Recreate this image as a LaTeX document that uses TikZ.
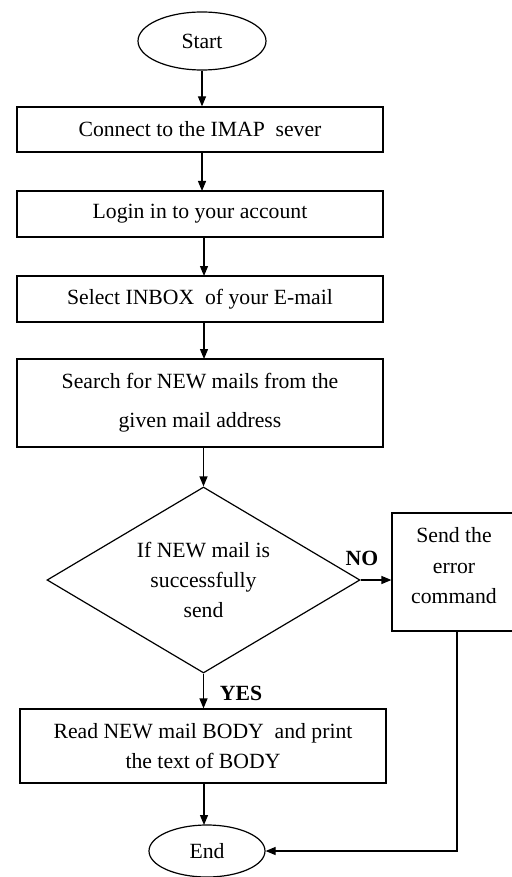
\documentclass[tikz,border=0pt]{standalone}
\usepackage{fontspec}
\setmainfont{Liberation Serif}
\usetikzlibrary{shapes.geometric,arrows.meta}
\begin{document}
\begin{tikzpicture}[x=1pt,y=-1pt,
  every node/.style={font=\fontsize{21.7}{30}\selectfont, inner sep=0pt},
  stepbox/.style={draw, line width=1.2pt, rectangle, align=center},
  term/.style={draw, line width=1.2pt, ellipse},
  decision/.style={draw, line width=1.2pt, diamond, align=center, aspect=1.68},
  arr/.style={line width=1.2pt, -{Triangle[length=10pt,width=8pt]}},
  lbl/.style={font=\fontsize{21.7}{26}\selectfont\bfseries}
]
\useasboundingbox (0,0) rectangle (511,877);
\node[term, minimum width=128pt, minimum height=58pt] (start) at (202,41) {Start};
\node[stepbox, minimum width=366pt, minimum height=45pt] (c1) at (200,129.5) {Connect to the IMAP\ \ sever};
\node[stepbox, minimum width=366pt, minimum height=46pt] (c2) at (200,214) {Login in to your account};
\node[stepbox, minimum width=366pt, minimum height=46pt] (c3) at (200,299) {Select INBOX\ \ of your E-mail};
\node[stepbox, minimum width=366pt, minimum height=88pt] (c4) at (200,403) {Search for NEW mails from the\\[9pt] given mail address};
\node[decision, minimum width=313pt, minimum height=186pt] (dec) at (203.5,580) {If NEW mail is\\ successfully\\ send};
\node[stepbox, minimum width=124pt, minimum height=118pt] (err) at (454,572) {};
\node[align=center, font=\fontsize{21.7}{30.5}\selectfont] (errtext) at (454,566) {Send the\\ error\\ command};
\node[stepbox, minimum width=366pt, minimum height=74pt] (c5) at (203,746) {Read NEW mail BODY\ \ and print\\ the text of BODY};
\node[term, minimum width=116pt, minimum height=52pt] (end) at (207,851) {End};
\node[lbl] (no) at (362,558) {NO};
\node[lbl] (yes) at (241,693) {YES};
\coordinate (corner) at (457,851);
\draw[arr] (start.south) -- (start.south |- c1.north);
\draw[arr] (202,152) -- (202,191);
\draw[arr] (204,237) -- (204,276);
\draw[arr] (204,322) -- (204,359);
\draw[arr] (dec.north |- c4.south) -- (dec.north);
\draw[arr] (dec.south) -- (dec.south |- c5.north);
\draw[arr] (204,783) -- (204,825);
\draw[arr] (dec.east) -- (dec.east -| err.west);
\draw[arr] (err.south -| corner) -- (corner) -- (end.east);
\end{tikzpicture}
\end{document}
